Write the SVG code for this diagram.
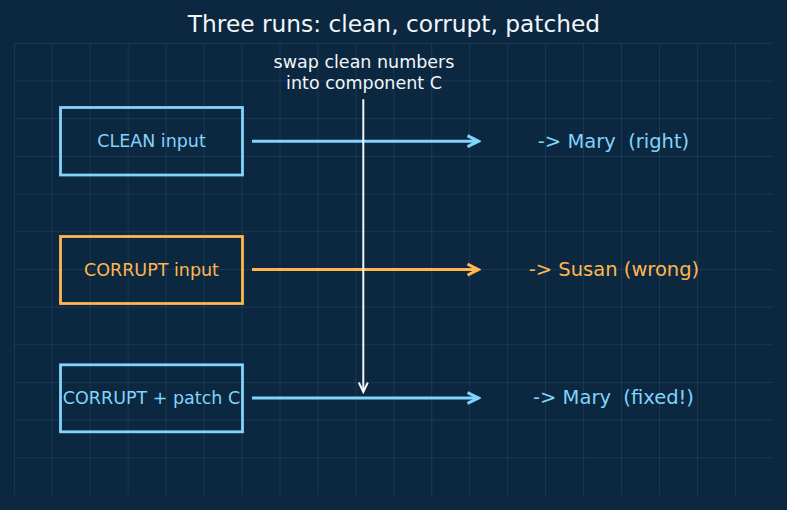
<svg xmlns="http://www.w3.org/2000/svg" width="787" height="510" viewBox="0 0 787 510">
  <defs>
    <style>
      .grid line { stroke: #5a86a8; stroke-opacity: 0.19; stroke-width: 1; }
      text { font-family: "DejaVu Sans", "Liberation Sans", sans-serif; white-space: pre; }
      .title { font-size: 23.3px; fill: #f2f6fa; text-anchor: middle; }
      .lbl { font-size: 17.5px; text-anchor: middle; }
      .out { font-size: 19.5px; text-anchor: middle; }
      .note { font-size: 17.5px; fill: #f2f6fa; text-anchor: middle; }
      .box { fill: none; stroke-width: 2.8; }
      .blue { stroke: #81d4fa; }
      .orange { stroke: #ffb74d; }
      .tblue { fill: #81d4fa; }
      .torange { fill: #ffb74d; }
      .arr { fill: none; stroke-width: 3; stroke-linecap: butt; }
    </style>
    <marker id="ahBlue" markerUnits="userSpaceOnUse" viewBox="-12 -7 14 14" refX="0" refY="0" markerWidth="14" markerHeight="14" orient="auto">
      <path d="M-11,-5.5 L0,0 L-11,5.5" fill="none" stroke="#81d4fa" stroke-width="3" stroke-linejoin="miter"/>
    </marker>
    <marker id="ahOrange" markerUnits="userSpaceOnUse" viewBox="-12 -7 14 14" refX="0" refY="0" markerWidth="14" markerHeight="14" orient="auto">
      <path d="M-11,-5.5 L0,0 L-11,5.5" fill="none" stroke="#ffb74d" stroke-width="3" stroke-linejoin="miter"/>
    </marker>
    <marker id="ahWhite" markerUnits="userSpaceOnUse" viewBox="-12 -7 14 14" refX="0" refY="0" markerWidth="14" markerHeight="14" orient="auto">
      <path d="M-9.5,-4.5 L0,0 L-9.5,4.5" fill="none" stroke="#f2f6fa" stroke-width="2" stroke-linejoin="miter"/>
    </marker>
  </defs>

  <rect width="787" height="510" fill="#0c2740"/>

  <g class="grid">
    <line x1="14.3" y1="43.3" x2="14.3" y2="495.5"/>
    <line x1="52.25" y1="43.3" x2="52.25" y2="495.5"/>
    <line x1="90.2" y1="43.3" x2="90.2" y2="495.5"/>
    <line x1="128.15" y1="43.3" x2="128.15" y2="495.5"/>
    <line x1="166.1" y1="43.3" x2="166.1" y2="495.5"/>
    <line x1="204.05" y1="43.3" x2="204.05" y2="495.5"/>
    <line x1="242" y1="43.3" x2="242" y2="495.5"/>
    <line x1="279.95" y1="43.3" x2="279.95" y2="495.5"/>
    <line x1="317.9" y1="43.3" x2="317.9" y2="495.5"/>
    <line x1="355.85" y1="43.3" x2="355.85" y2="495.5"/>
    <line x1="393.8" y1="43.3" x2="393.8" y2="495.5"/>
    <line x1="431.75" y1="43.3" x2="431.75" y2="495.5"/>
    <line x1="469.7" y1="43.3" x2="469.7" y2="495.5"/>
    <line x1="507.65" y1="43.3" x2="507.65" y2="495.5"/>
    <line x1="545.6" y1="43.3" x2="545.6" y2="495.5"/>
    <line x1="583.55" y1="43.3" x2="583.55" y2="495.5"/>
    <line x1="621.5" y1="43.3" x2="621.5" y2="495.5"/>
    <line x1="659.45" y1="43.3" x2="659.45" y2="495.5"/>
    <line x1="697.4" y1="43.3" x2="697.4" y2="495.5"/>
    <line x1="735.35" y1="43.3" x2="735.35" y2="495.5"/>
    <line x1="14.3" y1="43.3" x2="773.3" y2="43.3"/>
    <line x1="14.3" y1="81" x2="773.3" y2="81"/>
    <line x1="14.3" y1="118.65" x2="773.3" y2="118.65"/>
    <line x1="14.3" y1="156.35" x2="773.3" y2="156.35"/>
    <line x1="14.3" y1="194" x2="773.3" y2="194"/>
    <line x1="14.3" y1="231.7" x2="773.3" y2="231.7"/>
    <line x1="14.3" y1="269.4" x2="773.3" y2="269.4"/>
    <line x1="14.3" y1="307.05" x2="773.3" y2="307.05"/>
    <line x1="14.3" y1="344.75" x2="773.3" y2="344.75"/>
    <line x1="14.3" y1="382.4" x2="773.3" y2="382.4"/>
    <line x1="14.3" y1="420.1" x2="773.3" y2="420.1"/>
    <line x1="14.3" y1="457.8" x2="773.3" y2="457.8"/>
  </g>

  <text class="title" x="394" y="31.7">Three runs: clean, corrupt, patched</text>

  <g id="node-clean">
    <rect class="box blue" x="60.5" y="107.5" width="182" height="67.5"/>
    <text class="lbl tblue" x="151.5" y="147.3">CLEAN input</text>
  </g>
  <g id="node-corrupt">
    <rect class="box orange" x="60.5" y="236.5" width="182" height="67"/>
    <text class="lbl torange" x="151.5" y="275.6">CORRUPT input</text>
  </g>
  <g id="node-patch">
    <rect class="box blue" x="60.5" y="364.8" width="182" height="67"/>
    <text class="lbl tblue" x="151.5" y="404">CORRUPT + patch C</text>
  </g>

  <g id="out-clean">
    <text class="out tblue" x="613.5" y="147.6">-&gt; Mary  (right)</text>
  </g>
  <g id="out-corrupt">
    <text class="out torange" x="614" y="276.1">-&gt; Susan (wrong)</text>
  </g>
  <g id="out-patch">
    <text class="out tblue" x="613.5" y="404.4">-&gt; Mary  (fixed!)</text>
  </g>

  <g id="note">
    <text class="note" x="364" y="68.3">swap clean numbers</text>
    <text class="note" x="364" y="89.3">into component C</text>
  </g>

  <g id="connectors">
    <line class="arr blue" x1="252" y1="141.2" x2="478.5" y2="141.2" marker-end="url(#ahBlue)"/>
    <line class="arr orange" x1="252" y1="269.6" x2="478.5" y2="269.6" marker-end="url(#ahOrange)"/>
    <line class="arr blue" x1="252" y1="398" x2="478.5" y2="398" marker-end="url(#ahBlue)"/>
    <line x1="363.3" y1="99.3" x2="363.3" y2="392" stroke="#f2f6fa" stroke-width="2" fill="none" marker-end="url(#ahWhite)"/>
  </g>
</svg>
